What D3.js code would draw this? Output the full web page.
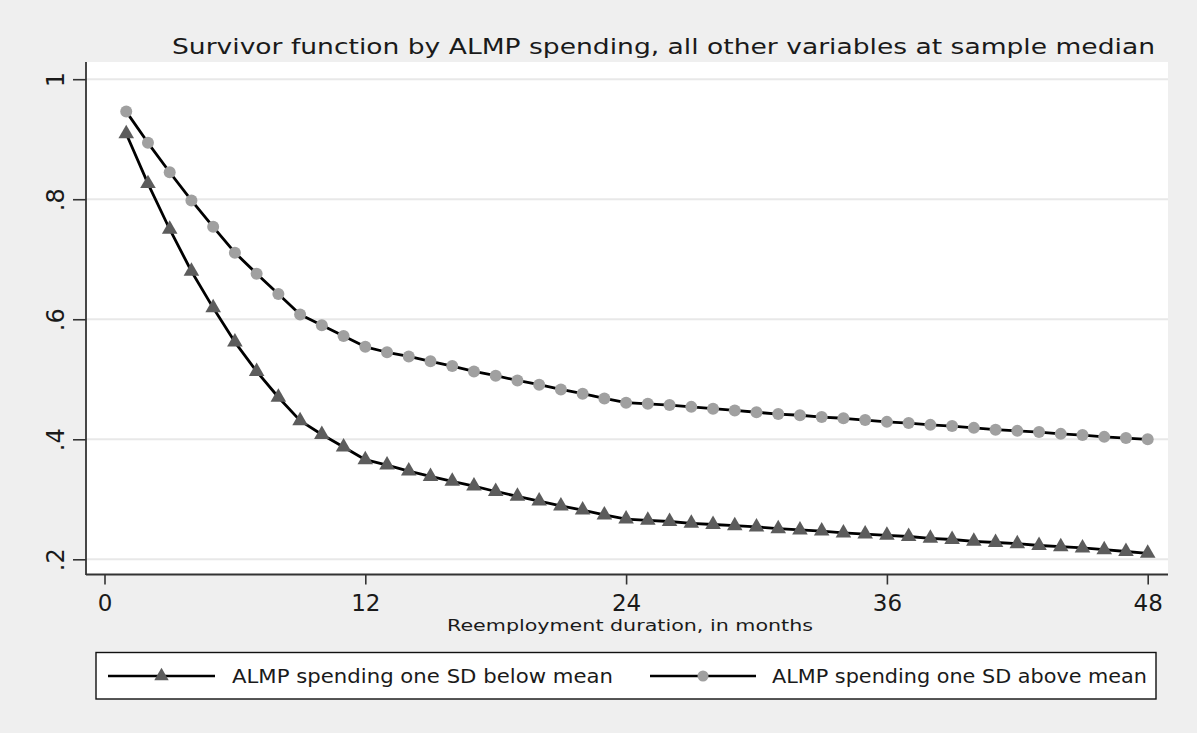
<!DOCTYPE html>
<html>
<head>
<meta charset="utf-8">
<script src="https://cdn.jsdelivr.net/npm/d3@7"></script>
<style>
  html, body { margin: 0; padding: 0; background: #efefef; }
  svg { display: block; }
  text { font-family: "DejaVu Sans", sans-serif; fill: #1a1a1a; }
</style>
</head>
<body>
<svg id="chart" width="1197" height="733"></svg>
<script>
// Survivor function by months of reemployment duration
const months = d3.range(1, 49);

const belowMean = [
  0.909, 0.826, 0.750, 0.680, 0.619, 0.562, 0.513, 0.470, 0.431, 0.408,
  0.387, 0.366, 0.357, 0.347, 0.338, 0.330, 0.322, 0.313, 0.305, 0.297,
  0.289, 0.282, 0.274, 0.267, 0.265, 0.263, 0.260, 0.258, 0.256, 0.254,
  0.251, 0.249, 0.247, 0.244, 0.242, 0.240, 0.238, 0.235, 0.233, 0.230,
  0.228, 0.226, 0.223, 0.221, 0.219, 0.216, 0.213, 0.210
];

const aboveMean = [
  0.946, 0.894, 0.845, 0.798, 0.754, 0.711, 0.676, 0.642, 0.608, 0.590,
  0.572, 0.554, 0.545, 0.538, 0.530, 0.522, 0.513, 0.506, 0.498, 0.491,
  0.483, 0.476, 0.468, 0.461, 0.459, 0.457, 0.454, 0.451, 0.448, 0.445,
  0.442, 0.440, 0.437, 0.435, 0.432, 0.429, 0.427, 0.424, 0.422, 0.419,
  0.416, 0.414, 0.412, 0.409, 0.407, 0.404, 0.402, 0.400
];

const xTicks = [0, 12, 24, 36, 48];
const yTicks = [0.2, 0.4, 0.6, 0.8, 1];
const yTickLabels = [".2", ".4", ".6", ".8", "1"];

const seriesNames = ["ALMP spending one SD below mean", "ALMP spending one SD above mean"];
const titleText = "Survivor function by ALMP spending, all other variables at sample median";
const xTitle = "Reemployment duration, in months";

const svg = d3.select("#chart");

const plot = { left: 86, right: 1168, top: 62, bottom: 574.5 };

const x = d3.scaleLinear().domain([0, 48]).range([104.5, 1147.7]);
const y = d3.scaleLinear().domain([0.2, 1]).range([559.3, 79.2]);

// plot region
svg.append("rect")
  .attr("x", plot.left).attr("y", plot.top)
  .attr("width", plot.right - plot.left).attr("height", plot.bottom - plot.top)
  .attr("fill", "#ffffff");

// horizontal gridlines
svg.append("g").selectAll("line").data(yTicks).join("line")
  .attr("x1", plot.left).attr("x2", plot.right)
  .attr("y1", d => y(d)).attr("y2", d => y(d))
  .attr("stroke", "#e8e8e8").attr("stroke-width", 2);

// y axis
const yAxis = d3.axisLeft(y).tickValues(yTicks)
  .tickFormat((d, i) => yTickLabels[i]).tickSize(13).tickPadding(0);
const gy = svg.append("g").attr("transform", `translate(${plot.left},0)`).call(yAxis);
gy.select(".domain").remove();
gy.selectAll(".tick line").attr("stroke", "#333").attr("stroke-width", 1.6);
gy.selectAll(".tick text")
  .attr("x", 0).attr("dy", null)
  .attr("transform", "translate(-22,0) rotate(-90)")
  .attr("text-anchor", "middle")
  .style("font-size", "24px").style("font-family", "DejaVu Sans, sans-serif")
  .attr("fill", "#1a1a1a");
svg.append("line")
  .attr("x1", plot.left).attr("x2", plot.left)
  .attr("y1", plot.top).attr("y2", plot.bottom + 0.5)
  .attr("stroke", "#333").attr("stroke-width", 1.8);

// x axis
const xAxis = d3.axisBottom(x).tickValues(xTicks).tickFormat(d3.format("d"))
  .tickSize(10).tickPadding(4);
const gx = svg.append("g").attr("transform", `translate(0,${plot.bottom})`).call(xAxis);
gx.select(".domain").remove();
gx.selectAll(".tick line").attr("stroke", "#333").attr("stroke-width", 1.6);
gx.selectAll(".tick text")
  .attr("dy", null).attr("y", 36.5)
  .style("font-size", "23px").style("font-family", "DejaVu Sans, sans-serif")
  .attr("fill", "#1a1a1a");
svg.append("line")
  .attr("x1", plot.left).attr("x2", plot.right)
  .attr("y1", plot.bottom).attr("y2", plot.bottom)
  .attr("stroke", "#333").attr("stroke-width", 1.8);

// series lines
const line = d3.line().x((d, i) => x(months[i])).y(d => y(d));
[belowMean, aboveMean].forEach(vals => {
  svg.append("path").datum(vals)
    .attr("d", line)
    .attr("fill", "none").attr("stroke", "#000").attr("stroke-width", 2.8)
    .attr("stroke-linejoin", "round");
});

// markers
const tri = d3.symbol().type(d3.symbolTriangle).size(105);
svg.append("g").selectAll("path").data(belowMean).join("path")
  .attr("d", tri)
  .attr("transform", (d, i) => `translate(${x(months[i])},${y(d)})`)
  .attr("fill", "#5c5c5c");

svg.append("g").selectAll("circle").data(aboveMean).join("circle")
  .attr("cx", (d, i) => x(months[i])).attr("cy", d => y(d))
  .attr("r", 6).attr("fill", "#a0a0a0");

// title
svg.append("text")
  .attr("x", 172).attr("y", 54)
  .attr("textLength", 983).attr("lengthAdjust", "spacingAndGlyphs")
  .style("font-size", "22px")
  .text(titleText);

// x axis title
svg.append("text")
  .attr("x", 447).attr("y", 631)
  .attr("textLength", 366).attr("lengthAdjust", "spacingAndGlyphs")
  .style("font-size", "16px")
  .text(xTitle);

// legend
const lg = svg.append("g");
lg.append("rect")
  .attr("x", 96).attr("y", 652.5).attr("width", 1060).attr("height", 46.5)
  .attr("fill", "#fff").attr("stroke", "#111").attr("stroke-width", 1.4);

const keys = [
  { x1: 108, x2: 215, text: 232, width: 381, mark: "tri" },
  { x1: 650, x2: 756, text: 772, width: 375, mark: "circle" }
];
const ly = 676;
keys.forEach((k, i) => {
  lg.append("line").attr("x1", k.x1).attr("x2", k.x2).attr("y1", ly).attr("y2", ly)
    .attr("stroke", "#000").attr("stroke-width", 2.4);
  const cx = (k.x1 + k.x2) / 2;
  if (k.mark === "tri") {
    lg.append("path").attr("d", d3.symbol().type(d3.symbolTriangle).size(90))
      .attr("transform", `translate(${cx},${ly})`).attr("fill", "#5c5c5c");
  } else {
    lg.append("circle").attr("cx", cx).attr("cy", ly).attr("r", 5.5).attr("fill", "#a0a0a0");
  }
  lg.append("text").attr("x", k.text).attr("y", ly + 7)
    .attr("textLength", k.width).attr("lengthAdjust", "spacingAndGlyphs")
    .style("font-size", "19px")
    .text(seriesNames[i]);
});
</script>
</body>
</html>
